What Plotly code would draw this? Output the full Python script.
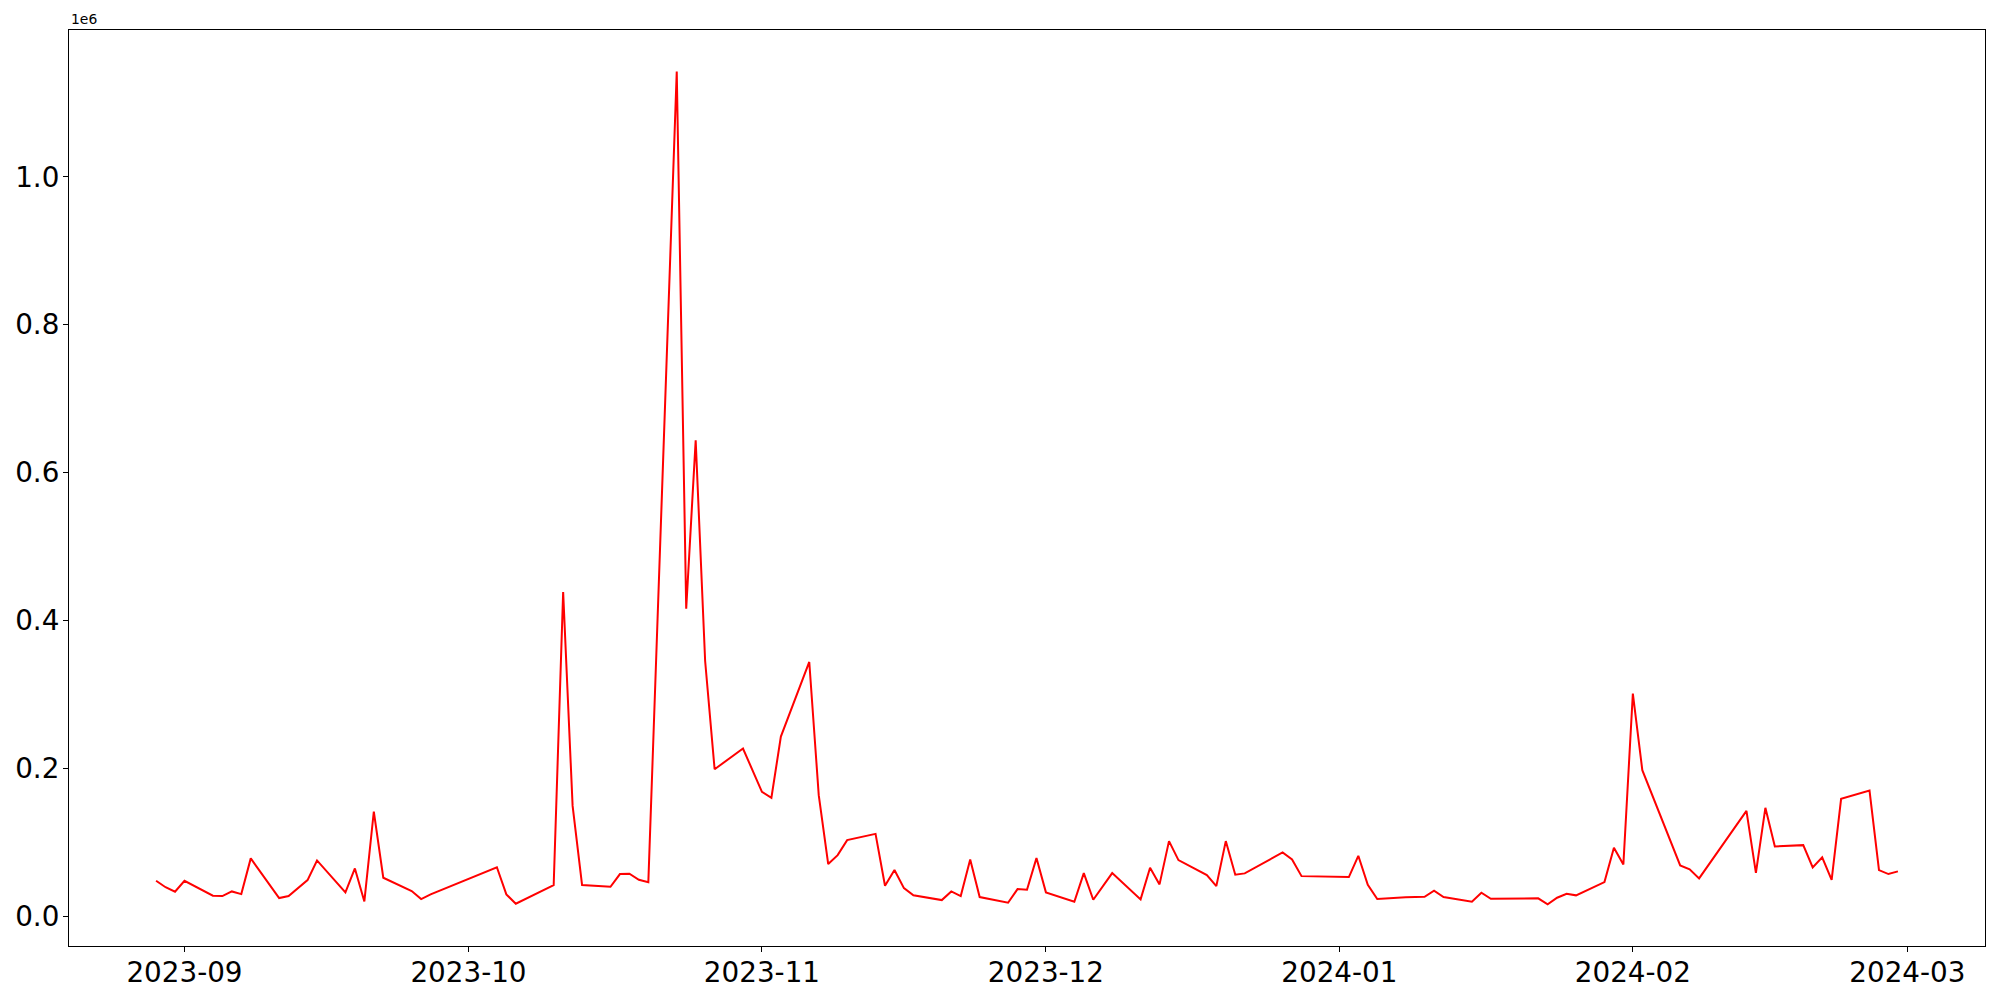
import pandas as pd
import plotly.graph_objects as go

# daily values
dates = [
    "2023-08-29", "2023-08-30", "2023-08-31", "2023-09-01", "2023-09-04",
    "2023-09-05", "2023-09-06", "2023-09-07", "2023-09-08", "2023-09-11",
    "2023-09-12", "2023-09-14", "2023-09-15", "2023-09-18", "2023-09-19",
    "2023-09-20", "2023-09-21", "2023-09-22", "2023-09-25", "2023-09-26",
    "2023-09-27", "2023-10-04", "2023-10-05", "2023-10-06", "2023-10-10",
    "2023-10-11", "2023-10-12", "2023-10-13", "2023-10-16", "2023-10-17",
    "2023-10-18", "2023-10-19", "2023-10-20", "2023-10-23", "2023-10-24",
    "2023-10-25", "2023-10-26", "2023-10-27", "2023-10-30", "2023-11-01",
    "2023-11-02", "2023-11-03", "2023-11-06", "2023-11-07", "2023-11-08",
    "2023-11-09", "2023-11-10", "2023-11-13", "2023-11-14", "2023-11-15",
    "2023-11-16", "2023-11-17", "2023-11-20", "2023-11-21", "2023-11-22",
    "2023-11-23", "2023-11-24", "2023-11-27", "2023-11-28", "2023-11-29",
    "2023-11-30", "2023-12-01", "2023-12-04", "2023-12-05", "2023-12-06",
    "2023-12-08", "2023-12-11", "2023-12-12", "2023-12-13", "2023-12-14",
    "2023-12-15", "2023-12-18", "2023-12-19", "2023-12-20", "2023-12-21",
    "2023-12-22", "2023-12-26", "2023-12-27", "2023-12-28", "2024-01-02",
    "2024-01-03", "2024-01-04", "2024-01-05", "2024-01-08", "2024-01-10",
    "2024-01-11", "2024-01-12", "2024-01-15", "2024-01-16", "2024-01-17",
    "2024-01-22", "2024-01-23", "2024-01-24", "2024-01-25", "2024-01-26",
    "2024-01-29", "2024-01-30", "2024-01-31", "2024-02-01", "2024-02-02",
    "2024-02-06", "2024-02-07", "2024-02-08", "2024-02-13", "2024-02-14",
    "2024-02-15", "2024-02-16", "2024-02-19", "2024-02-20", "2024-02-21",
    "2024-02-22", "2024-02-23", "2024-02-26", "2024-02-27", "2024-02-28",
    "2024-02-29",
]
values = [
    47700, 39000, 32900, 47700, 27500,
    27000, 33300, 29700, 78000, 24300,
    27000, 48600, 75200, 32000, 64400,
    19800, 141400, 51800, 33800, 23000,
    29300, 66000, 29300, 16600, 41700,
    438300, 149000, 41900, 39600, 56800,
    57200, 49100, 45900, 1142300, 415800,
    643600, 345000, 198600, 226600, 168000,
    160000, 242800, 343700, 163500, 70300,
    82400, 102700, 111200, 41000, 62200,
    37800, 28000, 21600, 33300, 27000,
    76600, 25700, 18000, 36500, 35600,
    78400, 32000, 19400, 58100, 22000,
    58100, 22500, 65300, 42800, 101400,
    75700, 55400, 40500, 101400, 55900,
    57700, 86100, 76600, 54000, 52700,
    81500, 42300, 23000, 25500, 26100,
    34200, 25700, 19400, 31500, 23400,
    24000, 15800, 24800, 30200, 28000,
    45900, 92300, 69800, 301000, 197300,
    68500, 63100, 50900, 142300, 58500,
    146400, 94100, 95900, 65800, 79300,
    49000, 158600, 169800, 62200, 56800,
    60400,
]
ytick_vals = [0, 200000, 400000, 600000, 800000, 1000000]
ytick_text = ["0.0", "0.2", "0.4", "0.6", "0.8", "1.0"]

x = pd.to_datetime(dates)

# matplotlib-like 5% margins
xspan = x.max() - x.min()
xr = [x.min() - xspan * 0.05, x.max() + xspan * 0.05]
yspan = max(values) - min(values)
yr = [min(values) - yspan * 0.05, max(values) + yspan * 0.05]

fig = go.Figure(go.Scatter(
    x=x, y=values, mode="lines",
    line=dict(color="red", width=2),
))

axis_common = dict(
    showline=True, linecolor="black", linewidth=1.1, mirror=True,
    ticks="outside", ticklen=5, tickwidth=1.1, tickcolor="black",
    showgrid=False, zeroline=False, automargin=False,
    tickfont=dict(family="DejaVu Sans", size=27.8, color="black"),
)

fig.update_xaxes(
    range=xr, tickformat="%Y-%m", dtick="M1", tick0="2023-09-01",
    ticklabelstandoff=-3, **axis_common,
)
fig.update_yaxes(
    range=yr, tickvals=ytick_vals, ticktext=ytick_text,
    ticklabelstandoff=-2, **axis_common,
)

fig.add_annotation(
    text="1e6", xref="paper", yref="paper", x=0, y=1,
    xanchor="left", yanchor="bottom", showarrow=False, yshift=1,
    font=dict(family="DejaVu Sans", size=13.9, color="black"),
)

# the page body adds 8px around the figure, so margins are shifted for it
fig.update_layout(
    width=2000, height=1000,
    margin=dict(l=61, r=23, t=22, b=62),
    plot_bgcolor="white", paper_bgcolor="white",
    showlegend=False,
)

fig.write_html("out.html")
